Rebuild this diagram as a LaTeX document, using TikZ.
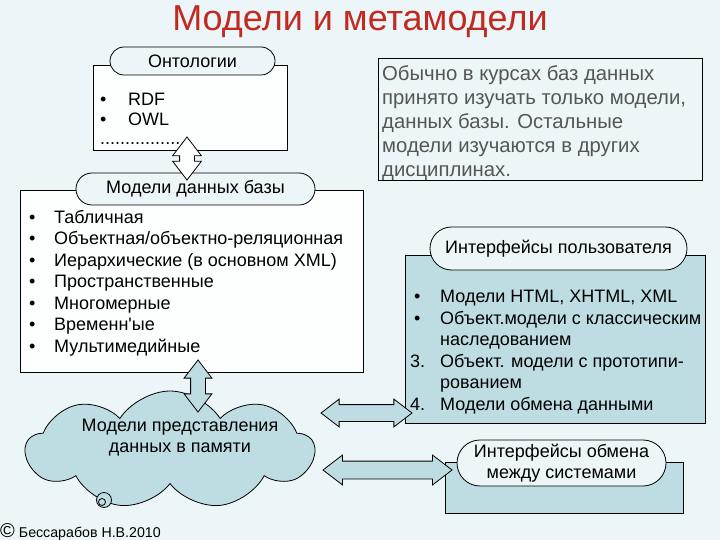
\documentclass[tikz,border=0pt]{standalone}
\usepackage{fontspec}
\setmainfont{Liberation Sans}[Ligatures=TeXOff]
\usetikzlibrary{shapes.misc,shapes.symbols,shapes.arrows}

\definecolor{bgblue}{RGB}{236,245,248}
\definecolor{cloudteal}{RGB}{190,221,227}
\definecolor{paper}{RGB}{253,254,254}
\definecolor{titlered}{RGB}{192,42,32}
\definecolor{notegray}{RGB}{85,85,85}

\tikzset{
  framebox/.style={draw, rectangle, line width=0.8pt, inner sep=0pt},
  pill/.style={draw, rounded rectangle, line width=0.8pt, fill=bgblue, inner sep=0pt, align=center, font=\fontsize{18}{21}\selectfont},
  dblarrow/.style={draw, double arrow, line width=0.8pt, inner sep=0pt, minimum width=0pt, double arrow tip angle=75},
  listtext/.style={align=left, anchor=north west, inner sep=0pt, font=\fontsize{18}{21.5}\selectfont}
}

\begin{document}
\begin{tikzpicture}[x=1pt, y=-1pt]
  \useasboundingbox (0,0) rectangle (720,540);
  \fill[bgblue] (0,0) rectangle (720,540);

  % Title
  \node[text=titlered, font=\fontsize{36}{40}\selectfont] (title) at (360,22) {Модели и метамодели};

  % Ontologies
  \node[framebox, fill=paper, minimum width=194pt, minimum height=85pt] (onto) at (190,107.5) {};
  \node[pill, minimum width=165pt, minimum height=28pt] (ontolabel) at (192.5,61) {Онтологии};
  \node[listtext, font=\fontsize{18}{19.5}\selectfont] (ontolist) at (100,93) {%
    \makebox[28pt][l]{•}RDF\\
    \makebox[28pt][l]{•}OWL\\
    .................};

  % Data models
  \node[framebox, fill=paper, minimum width=343pt, minimum height=182pt] (dbm) at (191.5,281) {};
  \node[pill, minimum width=239pt, minimum height=32pt] (dbmlabel) at (195.5,189) {Модели данных базы};
  \node[listtext] (dbmlist) at (29,210) {%
    \makebox[25pt][l]{•}Табличная\\
    \makebox[25pt][l]{•}Объектная/объектно-реляционная\\
    \makebox[25pt][l]{•}Иерархические (в основном XML)\\
    \makebox[25pt][l]{•}Пространственные\\
    \makebox[25pt][l]{•}Многомерные\\
    \makebox[25pt][l]{•}Временн'ые\\
    \makebox[25pt][l]{•}Мультимедийные};

  % Memory models
  \node[draw, cloud, cloud puffs=9, cloud puff arc=115, cloud ignores aspect, line width=0.8pt,
        fill=cloudteal, minimum width=288pt, minimum height=118pt] (mem) at (170,450) {};
  \node[align=center, font=\fontsize{18}{21}\selectfont] (memtext) at (180,438) {Модели представления\\данных в памяти};
  \draw[line width=0.8pt, fill=cloudteal] (104,500) circle (7.5);
  \draw[line width=0.8pt] (102,502) circle (3.5);

  % Note
  \node[framebox, fill=bgblue, minimum width=324pt, minimum height=122pt] (note) at (540,119) {};
  \node[listtext, text=notegray, font=\fontsize{20.3}{24}\selectfont] (notetext) at (382,65) {%
    Обычно в курсах баз данных\\
    принято изучать только модели,\\
    данных базы. Остальные\\
    модели изучаются в других\\
    дисциплинах.};

  % User interfaces
  \node[framebox, fill=cloudteal, minimum width=300pt, minimum height=168pt] (ui) at (555,339) {};
  \node[pill, minimum width=257pt, minimum height=43pt] (uilabel) at (558.5,248.5) {Интерфейсы пользователя};
  \node[listtext] (uilist) at (410,290) {%
    \makebox[30pt][l]{\hspace{4pt}•}Модели HTML, XHTML, XML\\
    \makebox[30pt][l]{\hspace{4pt}•}Объект.модели с классическим\\
    \hspace*{30pt}наследованием\\
    \makebox[30pt][l]{3.}Объект. модели с прототипи-\\
    \hspace*{30pt}рованием\\
    \makebox[30pt][l]{4.}Модели обмена данными};

  % Exchange interfaces
  \node[framebox, fill=cloudteal, minimum width=238pt, minimum height=51pt] (xchg) at (564,487.5) {};
  \node[pill, minimum width=209pt, minimum height=46pt] (xchglabel) at (561.5,463) {Интерфейсы обмена\\между системами};

  % Connections
  \node[dblarrow, fill=paper, rotate=90, text height=7pt, text depth=7pt, double arrow head extend=7pt, minimum height=43pt] (ontoarrow) at (187,158.5) {};
  \node[dblarrow, fill=cloudteal, rotate=90, text height=7pt, text depth=7pt, double arrow head extend=6.5pt, minimum height=52pt] (memarrow) at (198,386) {};
  \node[dblarrow, fill=cloudteal, text height=8pt, text depth=8pt, double arrow head extend=5.5pt, minimum height=91pt] (uiarrow) at (366.5,413) {};
  \node[dblarrow, fill=cloudteal, text height=8.5pt, text depth=8.5pt, double arrow head extend=6pt, minimum height=129pt] (xchgarrow) at (387.5,470) {};

  % Author
  \node[anchor=base west, inner sep=0pt, font=\fontsize{14.2}{17}\selectfont] (author) at (0,537) {{\fontsize{20}{20}\selectfont ©}\hspace{4pt}Бессарабов Н.В.2010};
\end{tikzpicture}
\end{document}
